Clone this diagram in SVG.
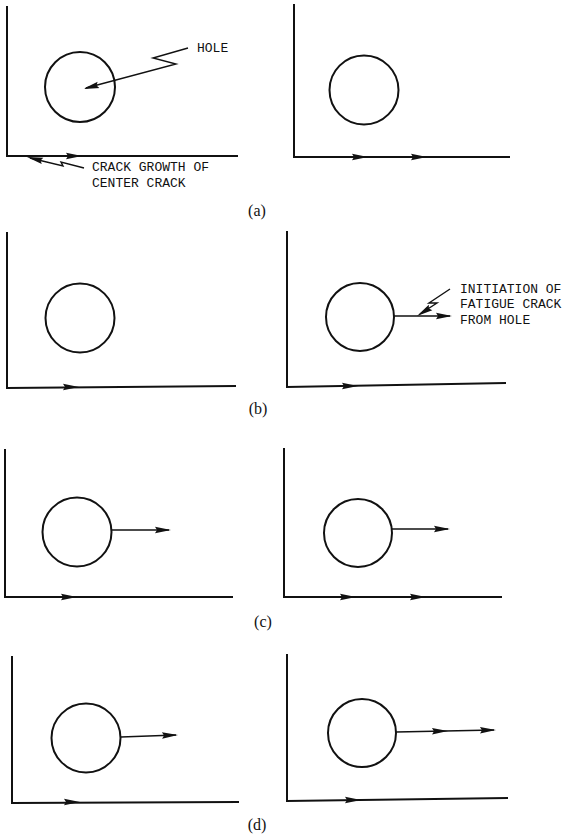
<svg xmlns="http://www.w3.org/2000/svg" xmlns:xlink="http://www.w3.org/1999/xlink" width="562" height="837" viewBox="0 0 562 837">
<style>
.ax{fill:none;stroke:#111;stroke-width:2;stroke-linecap:square}
.hole{fill:none;stroke:#111;stroke-width:2}
.cr{fill:none;stroke:#111;stroke-width:1.3}
.ld{fill:none;stroke:#111;stroke-width:1.4;stroke-linejoin:miter}
.ah{fill:#111}
.t{font-family:"Liberation Mono","DejaVu Sans Mono",monospace;font-size:13px;fill:#111}
.lb{font-family:"Liberation Serif","DejaVu Serif",serif;font-size:16px;fill:#111;text-anchor:middle}
</style>
<defs>
<path id="ah" d="M0,0 L-16,-3.3 L-14,0 L-16,3.3 Z"/>
</defs>
<rect width="562" height="837" fill="#fff"/>

<g id="panel-a-left">
<path class="ax" d="M7,7 L7,156 L237,156"/>
<circle class="hole" cx="80" cy="87" r="35"/>
</g>
<g id="panel-a-right">
<path class="ax" d="M294,5 L294,157 L509,157"/>
<circle class="hole" cx="364" cy="90" r="34.5"/>
</g>
<g id="panel-b-left">
<path class="ax" d="M7,233 L7,388 L235,386"/>
<circle class="hole" cx="80" cy="318" r="34.5"/>
</g>
<g id="panel-b-right">
<path class="ax" d="M287,232 L287,387 L505,383"/>
<circle class="hole" cx="360" cy="317" r="34"/>
</g>
<g id="panel-c-left">
<path class="ax" d="M5,450 L5,597 L232,597"/>
<circle class="hole" cx="77" cy="532" r="34.5"/>
</g>
<g id="panel-c-right">
<path class="ax" d="M284,449 L284,597 L501,597"/>
<circle class="hole" cx="358" cy="533" r="34"/>
</g>
<g id="panel-d-left">
<path class="ax" d="M12,657 L12,803 L238,802"/>
<circle class="hole" cx="86" cy="738" r="34.5"/>
</g>
<g id="panel-d-right">
<path class="ax" d="M287,655 L287,801 L507,798"/>
<circle class="hole" cx="362" cy="733" r="34"/>
</g>

<g id="connectors">
<use xlink:href="#ah" class="ah" transform="translate(82,156)"/>
<use xlink:href="#ah" class="ah" transform="translate(368,157)"/>
<use xlink:href="#ah" class="ah" transform="translate(427,157)"/>
<use xlink:href="#ah" class="ah" transform="translate(79,387)"/>
<use xlink:href="#ah" class="ah" transform="translate(358,386)"/>
<use xlink:href="#ah" class="ah" transform="translate(77,597)"/>
<use xlink:href="#ah" class="ah" transform="translate(356,597)"/>
<use xlink:href="#ah" class="ah" transform="translate(426,597)"/>
<use xlink:href="#ah" class="ah" transform="translate(80,802)"/>
<use xlink:href="#ah" class="ah" transform="translate(361,800)"/>
<path class="cr" d="M394,316 L450,316"/>
<use xlink:href="#ah" class="ah" transform="translate(452,316)"/>
<path class="cr" d="M112,530 L169,530"/>
<use xlink:href="#ah" class="ah" transform="translate(171,530)"/>
<path class="cr" d="M392,529 L448,529"/>
<use xlink:href="#ah" class="ah" transform="translate(450,529)"/>
<path class="cr" d="M121,737 L176,735"/>
<use xlink:href="#ah" class="ah" transform="translate(178,735) rotate(-2)"/>
<path class="cr" d="M396,732 L494,730"/>
<use xlink:href="#ah" class="ah" transform="translate(448,731) rotate(-1)"/>
<use xlink:href="#ah" class="ah" transform="translate(496,730) rotate(-1)"/>
<path class="ld" d="M188,48 L153,58 L176,64 L86,88"/>
<use xlink:href="#ah" class="ah" transform="translate(83,89) rotate(165)"/>
<path class="ld" d="M84,168 L61,162 L63,166 L30,158"/>
<use xlink:href="#ah" class="ah" transform="translate(27,157) rotate(194)"/>
<path class="ld" d="M450,289 L429,303 L437,303 L420,314"/>
<use xlink:href="#ah" class="ah" transform="translate(417,316) rotate(148)"/>
</g>

<g id="labels">
<text class="t" x="197" y="52">HOLE</text>
<text class="t" x="92" y="171">CRACK GROWTH OF</text>
<text class="t" x="92" y="187">CENTER CRACK</text>
<text class="t" x="460" y="293">INITIATION OF</text>
<text class="t" x="460" y="308">FATIGUE CRACK</text>
<text class="t" x="460" y="324">FROM HOLE</text>
<text class="lb" x="257" y="216">(a)</text>
<text class="lb" x="258" y="414">(b)</text>
<text class="lb" x="263" y="627">(c)</text>
<text class="lb" x="257" y="830">(d)</text>
</g>
</svg>
